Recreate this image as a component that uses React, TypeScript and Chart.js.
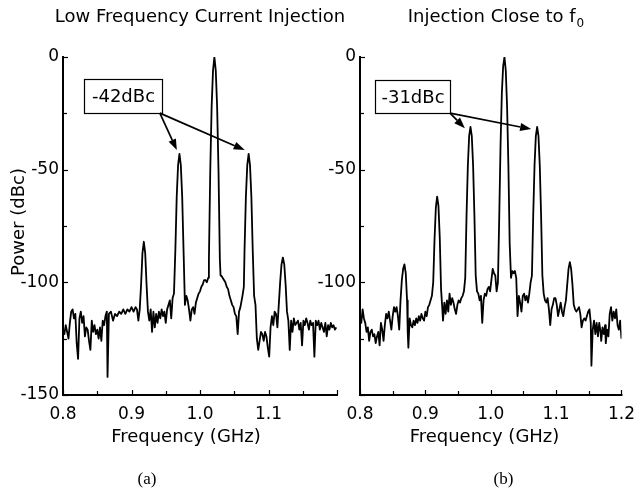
import React, { useEffect, useRef } from "react";
import { Chart, registerables } from "chart.js";

Chart.register(...registerables);

// ---------- data ----------
const freqA = [
  0.800, 0.802, 0.804, 0.806, 0.808, 0.810, 0.812, 0.814, 0.816, 0.818,
  0.820, 0.822, 0.824, 0.826, 0.828, 0.830, 0.832, 0.834, 0.836, 0.838,
  0.840, 0.842, 0.844, 0.846, 0.848, 0.850, 0.852, 0.854, 0.856, 0.858,
  0.860, 0.862, 0.864, 0.865, 0.867, 0.870, 0.873, 0.876, 0.879, 0.882,
  0.885, 0.888, 0.891, 0.894, 0.897, 0.900, 0.903, 0.906, 0.908, 0.910,
  0.912, 0.914, 0.916, 0.918, 0.920, 0.922, 0.924, 0.926, 0.928, 0.930,
  0.932, 0.934, 0.936, 0.938, 0.940, 0.942, 0.944, 0.946, 0.948, 0.950,
  0.952, 0.954, 0.956, 0.958, 0.960, 0.962, 0.964, 0.966, 0.968, 0.970,
  0.972, 0.974, 0.976, 0.978, 0.980, 0.982, 0.984, 0.986, 0.988, 0.990,
  0.992, 0.994, 0.996, 0.998, 1.000, 1.002, 1.004, 1.006, 1.008, 1.010,
  1.012, 1.013, 1.015, 1.017, 1.019, 1.021, 1.023, 1.025, 1.027, 1.029,
  1.030, 1.031, 1.033, 1.035, 1.037, 1.039, 1.041, 1.043, 1.045, 1.047,
  1.049, 1.051, 1.053, 1.055, 1.057, 1.059, 1.062, 1.064, 1.065, 1.067,
  1.069, 1.071, 1.073, 1.075, 1.077, 1.079, 1.081, 1.083, 1.085, 1.087,
  1.089, 1.091, 1.093, 1.095, 1.097, 1.099, 1.101, 1.103, 1.105, 1.107,
  1.109, 1.111, 1.113, 1.115, 1.117, 1.119, 1.121, 1.123, 1.125, 1.127,
  1.129, 1.131, 1.133, 1.135, 1.137, 1.139, 1.141, 1.143, 1.145, 1.147,
  1.149, 1.151, 1.153, 1.155, 1.157, 1.159, 1.161, 1.163, 1.165, 1.167,
  1.169, 1.171, 1.173, 1.175, 1.177, 1.179, 1.181, 1.183, 1.185, 1.187,
  1.189, 1.191, 1.193, 1.195, 1.197, 1.199,
];
const powerA = [
  -121, -123, -119, -122, -125, -118, -113, -112, -116, -114,
  -127, -134, -116, -113, -118, -115, -124, -120, -121, -126,
  -130, -117, -122, -119, -123, -121, -125, -120, -126, -117,
  -119, -115, -113, -142, -114, -113, -117, -114, -115, -113,
  -114, -112, -114, -112, -113, -111, -113, -111, -112, -117,
  -112, -101, -87, -82, -87, -101, -113, -117, -112, -122,
  -113, -120, -114, -118, -113, -116, -112, -115, -113, -118,
  -112, -110, -108, -116, -107, -105, -86, -62, -48, -43,
  -48, -62, -86, -110, -106, -108, -112, -117, -112, -111,
  -114, -109, -107, -105, -104, -102, -101, -99, -99, -100,
  -98, -90, -50, -22, -6, 0, -6, -22, -50, -90,
  -97, -97, -98, -99, -100, -102, -103, -106, -108, -110,
  -111, -114, -115, -123, -113, -111, -106, -102, -86, -62,
  -48, -43, -48, -62, -86, -106, -110, -125, -130, -126,
  -122, -123, -126, -122, -124, -129, -133, -120, -115, -119,
  -113, -114, -120, -110, -100, -92, -89, -92, -101, -113,
  -117, -130, -117, -122, -116, -119, -118, -117, -121, -118,
  -128, -117, -119, -116, -118, -121, -117, -119, -118, -133,
  -117, -119, -117, -121, -118, -120, -122, -118, -124, -119,
  -121, -118, -120, -119, -121, -120,
];

const freqB = [
  0.800, 0.802, 0.804, 0.806, 0.808, 0.810, 0.812, 0.814, 0.816, 0.818,
  0.820, 0.822, 0.824, 0.826, 0.828, 0.830, 0.832, 0.834, 0.836, 0.838,
  0.840, 0.842, 0.844, 0.846, 0.848, 0.850, 0.852, 0.854, 0.856, 0.858,
  0.860, 0.862, 0.864, 0.866, 0.868, 0.870, 0.872, 0.873, 0.874, 0.876,
  0.878, 0.880, 0.882, 0.884, 0.886, 0.888, 0.890, 0.892, 0.894, 0.896,
  0.898, 0.900, 0.902, 0.904, 0.906, 0.908, 0.910, 0.912, 0.914, 0.916,
  0.918, 0.920, 0.922, 0.924, 0.926, 0.927, 0.929, 0.931, 0.933, 0.935,
  0.937, 0.939, 0.941, 0.943, 0.945, 0.947, 0.949, 0.951, 0.953, 0.955,
  0.957, 0.959, 0.961, 0.963, 0.965, 0.967, 0.969, 0.971, 0.973, 0.975,
  0.977, 0.979, 0.981, 0.983, 0.985, 0.987, 0.989, 0.991, 0.993, 0.995,
  0.997, 0.999, 1.001, 1.003, 1.005, 1.007, 1.009, 1.011, 1.013, 1.015,
  1.017, 1.019, 1.021, 1.023, 1.025, 1.027, 1.029, 1.031, 1.033, 1.035,
  1.037, 1.039, 1.041, 1.043, 1.045, 1.047, 1.049, 1.051, 1.053, 1.055,
  1.057, 1.059, 1.061, 1.063, 1.065, 1.067, 1.069, 1.071, 1.073, 1.075,
  1.077, 1.079, 1.081, 1.083, 1.085, 1.087, 1.089, 1.091, 1.093, 1.095,
  1.097, 1.099, 1.101, 1.103, 1.105, 1.107, 1.109, 1.111, 1.113, 1.115,
  1.117, 1.119, 1.121, 1.123, 1.125, 1.127, 1.129, 1.131, 1.133, 1.135,
  1.137, 1.139, 1.141, 1.143, 1.145, 1.147, 1.149, 1.151, 1.153, 1.154,
  1.156, 1.158, 1.160, 1.162, 1.164, 1.166, 1.168, 1.169, 1.171, 1.173,
  1.175, 1.176, 1.178, 1.180, 1.182, 1.184, 1.186, 1.188, 1.190, 1.192,
  1.194, 1.196, 1.198, 1.200,
];
const powerB = [
  -115, -118, -112, -116, -118, -122, -120, -126, -122, -121,
  -124, -123, -127, -124, -122, -128, -118, -121, -126, -119,
  -114, -116, -113, -117, -121, -115, -111, -113, -111, -115,
  -121, -108, -99, -94, -92, -96, -108, -122, -129, -116,
  -119, -120, -117, -119, -116, -118, -115, -117, -114, -116,
  -117, -113, -115, -111, -110, -108, -106, -100, -81, -67,
  -62, -66, -80, -103, -112, -117, -109, -114, -108, -113,
  -105, -110, -107, -109, -112, -114, -110, -108, -109, -107,
  -106, -104, -98, -70, -48, -35, -31, -35, -48, -70,
  -97, -104, -105, -108, -106, -118, -108, -105, -106, -103,
  -102, -104, -99, -94, -96, -97, -104, -100, -71, -39,
  -16, -4, 0, -6, -22, -48, -83, -98, -95, -96,
  -95, -98, -115, -106, -109, -113, -106, -105, -108, -106,
  -109, -105, -100, -97, -70, -48, -35, -31, -35, -48,
  -70, -97, -105, -108, -109, -107, -112, -119, -112, -110,
  -107, -107, -110, -115, -112, -109, -113, -115, -111, -108,
  -101, -94, -91, -94, -101, -110, -112, -113, -112, -111,
  -114, -120, -117, -116, -117, -115, -113, -112, -118, -137,
  -121, -117, -123, -118, -124, -118, -122, -126, -120, -123,
  -119, -127, -121, -124, -114, -111, -117, -113, -116, -112,
  -119, -121, -117, -125,
];

// axes, ticks and text
const xTickValues = [0.8, 0.9, 1.0, 1.1, 1.2];
const xTickLabelsA = ["0.8", "0.9", "1.0", "1.1", ""];
const xTickLabelsB = ["0.8", "0.9", "1.0", "1.1", "1.2"];
const xMinorTicks = [0.85, 0.95, 1.05, 1.15];
const yTickValues = [-150, -100, -50, 0];
const yTickLabelsA = ["-150", "-100", "-50", "0"];
const yTickLabelsB = ["", "-100", "-50", "0"];
const yMinorTicks = [-125, -75, -25];

const titleA = "Low Frequency Current Injection";
const titleB = "Injection Close to f";
const titleBSub = "0";
const xAxisTitle = "Frequency (GHz)";
const yAxisTitle = "Power (dBc)";
const panelLabelA = "(a)";
const panelLabelB = "(b)";
const calloutA = "-42dBc";
const calloutB = "-31dBc";

const SANS = '"DejaVu Sans", "Liberation Sans", sans-serif';
const SERIF = '"Liberation Serif", "DejaVu Serif", serif';
const INK = "#000";

type Panel = {
  freq: number[];
  power: number[];
  xLabels: string[];
  yLabels: string[];
  areaLeft: number;
  padRight: number;
  title: { text: string; sub?: string; cx: number; base: number };
  xTitle: { cx: number; base: number };
  label: { text: string; cx: number; base: number };
  yTitle?: { text: string; x: number; cy: number };
  callout: {
    text: string;
    box: [number, number, number, number];
    from: [number, number];
    to: [number, number][];
  };
};

const panelA: Panel = {
  freq: freqA,
  power: powerA,
  xLabels: xTickLabelsA,
  yLabels: yTickLabelsA,
  areaLeft: 63,
  padRight: 23,
  title: { text: titleA, cx: 200, base: 22 },
  xTitle: { cx: 186, base: 442 },
  label: { text: panelLabelA, cx: 147, base: 484 },
  yTitle: { text: yAxisTitle, x: 24, cy: 222 },
  callout: {
    text: calloutA,
    box: [0.8306, -9.8, 0.9443, -24.9],
    from: [0.9414, -24.9],
    to: [
      [0.9662, -41.3],
      [1.0653, -41.3],
    ],
  },
};

const panelB: Panel = {
  freq: freqB,
  power: powerB,
  xLabels: xTickLabelsB,
  yLabels: yTickLabelsB,
  areaLeft: 60,
  padRight: 14,
  title: { text: titleB, sub: titleBSub, cx: 196, base: 22 },
  xTitle: { cx: 184.5, base: 442 },
  label: { text: panelLabelB, cx: 203.5, base: 484 },
  callout: {
    text: calloutB,
    box: [0.8222, -10.2, 0.9378, -24.9],
    from: [0.9378, -24.9],
    to: [
      [0.9604, -31.6],
      [1.0618, -32.0],
    ],
  },
};

function drawArrow(ctx: CanvasRenderingContext2D, x0: number, y0: number, x1: number, y1: number) {
  const ang = Math.atan2(y1 - y0, x1 - x0);
  const L = 11;
  const W = 4;
  const bx = x1 - L * Math.cos(ang);
  const by = y1 - L * Math.sin(ang);
  ctx.beginPath();
  ctx.moveTo(x0, y0);
  ctx.lineTo(bx, by);
  ctx.stroke();
  ctx.beginPath();
  ctx.moveTo(x1, y1);
  ctx.lineTo(bx + W * Math.sin(ang), by - W * Math.cos(ang));
  ctx.lineTo(bx - W * Math.sin(ang), by + W * Math.cos(ang));
  ctx.closePath();
  ctx.fill();
}

function makeDecor(p: Panel) {
  return {
    id: "decor",
    afterDatasetsDraw(chart: any) {
      const { ctx, chartArea: a } = chart;
      const xs = chart.scales.x;
      const ys = chart.scales.y;
      ctx.save();
      ctx.strokeStyle = "#000";
      ctx.fillStyle = "#000";
      // axis lines
      ctx.lineWidth = 2;
      ctx.beginPath();
      ctx.moveTo(a.left, a.top - 1);
      ctx.lineTo(a.left, a.bottom);
      ctx.lineTo(a.right + 1, a.bottom);
      ctx.stroke();
      // inward ticks
      ctx.lineWidth = 1.2;
      const tick = (x0: number, y0: number, x1: number, y1: number) => {
        ctx.beginPath();
        ctx.moveTo(x0, y0);
        ctx.lineTo(x1, y1);
        ctx.stroke();
      };
      xTickValues.forEach((v) => {
        const px = Math.round(xs.getPixelForValue(v)) + 0.5;
        tick(px, a.bottom, px, a.bottom - 5);
      });
      xMinorTicks.forEach((v) => {
        const px = Math.round(xs.getPixelForValue(v)) + 0.5;
        tick(px, a.bottom, px, a.bottom - 4);
      });
      yTickValues.forEach((v) => {
        const py = Math.round(ys.getPixelForValue(v)) + 0.5;
        tick(a.left, py, a.left + 5, py);
      });
      yMinorTicks.forEach((v) => {
        const py = Math.round(ys.getPixelForValue(v)) + 0.5;
        tick(a.left, py, a.left + 4, py);
      });

      // callout box and arrows
      const c = p.callout;
      const bx1 = Math.round(xs.getPixelForValue(c.box[0])) + 0.5;
      const by1 = Math.round(ys.getPixelForValue(c.box[1])) + 0.5;
      const bx2 = Math.round(xs.getPixelForValue(c.box[2])) + 0.5;
      const by2 = Math.round(ys.getPixelForValue(c.box[3])) + 0.5;
      ctx.fillStyle = "#fff";
      ctx.fillRect(bx1, by1, bx2 - bx1, by2 - by1);
      ctx.lineWidth = 1.2;
      ctx.strokeRect(bx1, by1, bx2 - bx1, by2 - by1);
      ctx.fillStyle = INK;
      ctx.font = `18px ${SANS}`;
      ctx.textAlign = "center";
      ctx.textBaseline = "middle";
      ctx.fillText(c.text, (bx1 + bx2) / 2, (by1 + by2) / 2 + 1);
      ctx.fillStyle = "#000";
      ctx.lineWidth = 1.7;
      const fx = xs.getPixelForValue(c.from[0]);
      const fy = ys.getPixelForValue(c.from[1]);
      c.to.forEach(([tx, ty]) => {
        drawArrow(ctx, fx, fy, xs.getPixelForValue(tx), ys.getPixelForValue(ty));
      });

      // texts
      ctx.fillStyle = INK;
      ctx.textBaseline = "alphabetic";
      ctx.font = `18px ${SANS}`;
      if (p.title.sub) {
        const w1 = ctx.measureText(p.title.text).width;
        ctx.font = `12px ${SANS}`;
        const w2 = ctx.measureText(p.title.sub).width;
        const left = p.title.cx - (w1 + w2 + 1) / 2;
        ctx.textAlign = "left";
        ctx.font = `18px ${SANS}`;
        ctx.fillText(p.title.text, left, p.title.base);
        ctx.font = `12px ${SANS}`;
        ctx.fillText(p.title.sub, left + w1 + 1, p.title.base + 5);
      } else {
        ctx.textAlign = "center";
        ctx.fillText(p.title.text, p.title.cx, p.title.base);
      }
      ctx.font = `18px ${SANS}`;
      ctx.textAlign = "center";
      ctx.fillText(xAxisTitle, p.xTitle.cx, p.xTitle.base);
      ctx.font = `17px ${SERIF}`;
      ctx.fillText(p.label.text, p.label.cx, p.label.base);
      if (p.yTitle) {
        ctx.save();
        ctx.translate(p.yTitle.x, p.yTitle.cy);
        ctx.rotate(-Math.PI / 2);
        ctx.font = `18px ${SANS}`;
        ctx.textAlign = "center";
        ctx.textBaseline = "alphabetic";
        ctx.fillText(p.yTitle.text, 0, 0);
        ctx.restore();
      }
      ctx.restore();
    },
  };
}

function buildConfig(p: Panel): any {
  return {
    type: "line",
    data: {
      datasets: [
        {
          data: p.freq.map((f, i) => ({ x: f, y: p.power[i] })),
          borderColor: "#000",
          borderWidth: 1.8,
          borderJoinStyle: "round",
          pointRadius: 0,
          tension: 0,
          fill: false,
        },
      ],
    },
    options: {
      responsive: false,
      animation: false,
      events: [],
      layout: { padding: { left: 0, right: p.padRight, top: 57, bottom: 0 } },
      plugins: {
        legend: { display: false },
        tooltip: { enabled: false },
        title: { display: false },
      },
      scales: {
        x: {
          type: "linear",
          min: 0.8,
          max: 1.2,
          grid: { display: false, drawTicks: false },
          border: { display: false },
          afterBuildTicks: (s: any) => {
            s.ticks = xTickValues.map((v) => ({ value: v }));
          },
          afterFit: (s: any) => {
            s.height = 96;
          },
          ticks: {
            autoSkip: false,
            maxRotation: 0,
            padding: 9,
            color: INK,
            font: { family: SANS, size: 17 },
            callback: (_v: any, i: number) => p.xLabels[i],
          },
        },
        y: {
          type: "linear",
          min: -150,
          max: 0,
          grid: { display: false, drawTicks: false },
          border: { display: false },
          afterBuildTicks: (s: any) => {
            s.ticks = yTickValues.map((v) => ({ value: v }));
          },
          afterFit: (s: any) => {
            s.width = p.areaLeft;
          },
          ticks: {
            autoSkip: false,
            padding: 4,
            color: INK,
            font: { family: SANS, size: 17 },
            callback: (_v: any, i: number) => p.yLabels[i],
          },
        },
      },
    },
    plugins: [makeDecor(p)],
  };
}

export default function App() {
  const refA = useRef<HTMLCanvasElement>(null);
  const refB = useRef<HTMLCanvasElement>(null);
  useEffect(() => {
    const ca = new Chart(refA.current as HTMLCanvasElement, buildConfig(panelA));
    const cb = new Chart(refB.current as HTMLCanvasElement, buildConfig(panelB));
    return () => {
      ca.destroy();
      cb.destroy();
    };
  }, []);
  return (
    <div
      style={{
        position: "fixed",
        left: 0,
        top: 0,
        width: 644,
        height: 491,
        background: "#fff",
        overflow: "hidden",
      }}
    >
      <canvas
        ref={refA}
        width={360}
        height={491}
        style={{ position: "absolute", left: 0, top: 0, width: 360, height: 491 }}
      />
      <canvas
        ref={refB}
        width={344}
        height={491}
        style={{ position: "absolute", left: 300, top: 0, width: 344, height: 491 }}
      />
    </div>
  );
}
